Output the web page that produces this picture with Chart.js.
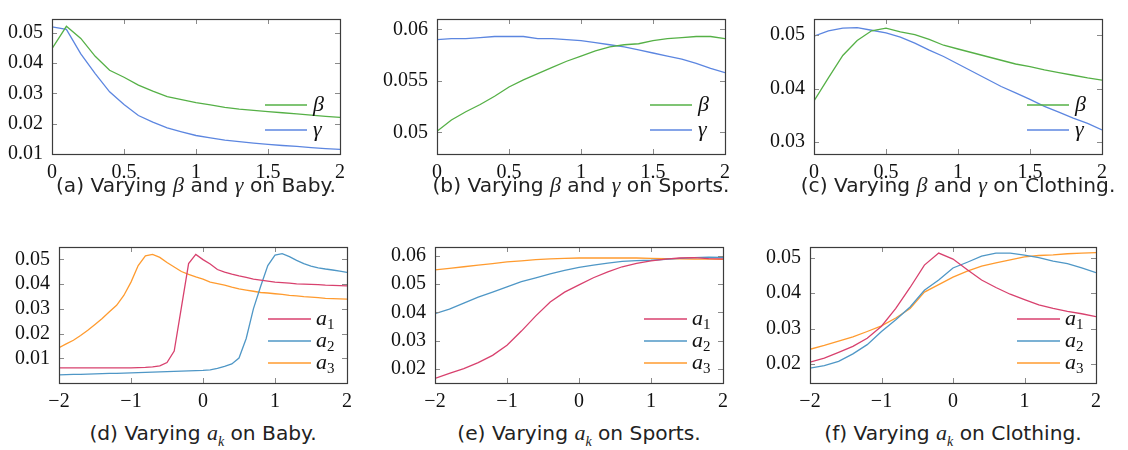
<!DOCTYPE html>
<html>
<head>
<meta charset="utf-8">
<script src="https://cdn.jsdelivr.net/npm/chart.js@4.4.1/dist/chart.umd.min.js"></script>
<style>
  body { margin: 0; background: #fff; }
  #page { position: relative; width: 1128px; height: 450px; overflow: hidden; }
  .box { position: absolute; }
  .cap { position: absolute; font-family: "DejaVu Sans", sans-serif; font-size: 20.2px; color: #222;
         white-space: nowrap; transform: translate(-50%, -50%); }
  .cap i { font-family: "Liberation Serif", serif; font-size: 22px; }
  .cap sub { font-size: 14px; font-style: italic; font-family: "Liberation Serif", serif; }
</style>
</head>
<body>
<div id="page"></div>
<script>
// x positions
const xTop = [0, 0.1, 0.2, 0.3, 0.4, 0.5, 0.6, 0.7, 0.8, 0.9, 1, 1.1, 1.2, 1.3, 1.4, 1.5, 1.6, 1.7, 1.8, 1.9, 2];
const xFine = [-2, -1.9, -1.8, -1.7, -1.6, -1.5, -1.4, -1.3, -1.2, -1.1, -1, -0.9, -0.8, -0.7, -0.6, -0.5, -0.4, -0.3, -0.2, -0.1,
  0, 0.1, 0.2, 0.3, 0.4, 0.5, 0.6, 0.7, 0.8, 0.9, 1, 1.1, 1.2, 1.3, 1.4, 1.5, 1.6, 1.7, 1.8, 1.9, 2];
const xCoarse = [-2, -1.8, -1.6, -1.4, -1.2, -1, -0.8, -0.6, -0.4, -0.2, 0, 0.2, 0.4, 0.6, 0.8, 1, 1.2, 1.4, 1.6, 1.8, 2];

// (a) Baby
const betaBaby = [0.0447, 0.0521, 0.0481, 0.0422, 0.0376, 0.0353, 0.0327, 0.0307, 0.0289, 0.0279, 0.0269, 0.0262, 0.0254, 0.0248, 0.0244, 0.0240, 0.0236, 0.0232, 0.0228, 0.0224, 0.0221];
const gammaBaby = [0.0519, 0.0511, 0.0430, 0.0365, 0.0305, 0.0263, 0.0227, 0.0205, 0.0186, 0.0173, 0.0161, 0.0153, 0.0146, 0.0141, 0.0136, 0.0132, 0.0128, 0.0125, 0.0121, 0.0118, 0.0115];
// (b) Sports
const betaSports = [0.0501, 0.0512, 0.0520, 0.0527, 0.0535, 0.0544, 0.0551, 0.0557, 0.0563, 0.0569, 0.0574, 0.0579, 0.0583, 0.0585, 0.0586, 0.0589, 0.0591, 0.0592, 0.0593, 0.0593, 0.0591];
const gammaSports = [0.0590, 0.0591, 0.0591, 0.0592, 0.0593, 0.0593, 0.0593, 0.0591, 0.0591, 0.0590, 0.0589, 0.0587, 0.0585, 0.0583, 0.0580, 0.0577, 0.0574, 0.0571, 0.0567, 0.0562, 0.0558];
// (c) Clothing
const betaClothing = [0.0377, 0.0420, 0.0462, 0.0490, 0.0508, 0.0513, 0.0506, 0.0501, 0.0492, 0.0481, 0.0474, 0.0467, 0.0460, 0.0453, 0.0446, 0.0441, 0.0435, 0.0430, 0.0425, 0.0420, 0.0416];
const gammaClothing = [0.0498, 0.0508, 0.0513, 0.0514, 0.0509, 0.0504, 0.0496, 0.0485, 0.0472, 0.0460, 0.0446, 0.0432, 0.0418, 0.0404, 0.0392, 0.0380, 0.0367, 0.0356, 0.0345, 0.0335, 0.0323];
// (d) Baby, a_k
const a1Baby = [0.0061, 0.0061, 0.0061, 0.0061, 0.0061, 0.0061, 0.0061, 0.0061, 0.0061, 0.0061, 0.0061, 0.0062, 0.0063, 0.0065, 0.0069, 0.0083, 0.0129, 0.0306, 0.0483, 0.0520,
  0.0499, 0.0481, 0.0459, 0.0448, 0.0440, 0.0433, 0.0427, 0.0420, 0.0416, 0.0412, 0.0408, 0.0406, 0.0404, 0.0401, 0.0400, 0.0399, 0.0398, 0.0396, 0.0395, 0.0394, 0.0393];
const a2Baby = [0.0033, 0.0034, 0.0035, 0.0035, 0.0036, 0.0037, 0.0038, 0.0039, 0.0039, 0.0040, 0.0041, 0.0042, 0.0043, 0.0044, 0.0045, 0.0046, 0.0047, 0.0048, 0.0049, 0.0050,
  0.0051, 0.0053, 0.0059, 0.0067, 0.0077, 0.0101, 0.0180, 0.0300, 0.0390, 0.0475, 0.0517, 0.0523, 0.0511, 0.0496, 0.0483, 0.0473, 0.0466, 0.0461, 0.0457, 0.0452, 0.0447];
const a3Baby = [0.0143, 0.0158, 0.0173, 0.0192, 0.0213, 0.0237, 0.0261, 0.0288, 0.0314, 0.0354, 0.0408, 0.0475, 0.0514, 0.0520, 0.0508, 0.0487, 0.0469, 0.0451, 0.0439, 0.0429,
  0.0420, 0.0408, 0.0402, 0.0396, 0.0388, 0.0381, 0.0376, 0.0371, 0.0366, 0.0364, 0.0361, 0.0358, 0.0354, 0.0352, 0.0349, 0.0347, 0.0345, 0.0342, 0.0341, 0.0340, 0.0339];
// (e) Sports, a_k
const a1Sports = [0.0166, 0.0184, 0.0201, 0.0222, 0.0248, 0.0284, 0.0334, 0.0388, 0.0437, 0.0472, 0.0498, 0.0523, 0.0544, 0.0562, 0.0574, 0.0583, 0.0589, 0.0593, 0.0594, 0.0591, 0.0590];
const a2Sports = [0.0396, 0.0412, 0.0433, 0.0454, 0.0472, 0.0491, 0.0509, 0.0523, 0.0537, 0.0549, 0.0560, 0.0568, 0.0575, 0.0581, 0.0584, 0.0585, 0.0588, 0.0592, 0.0594, 0.0596, 0.0595];
const a3Sports = [0.0551, 0.0556, 0.0562, 0.0568, 0.0573, 0.0579, 0.0583, 0.0587, 0.0590, 0.0592, 0.0593, 0.0593, 0.0593, 0.0593, 0.0593, 0.0592, 0.0591, 0.0590, 0.0589, 0.0589, 0.0588];
// (f) Clothing, a_k
const a1Clothing = [0.0206, 0.0217, 0.0233, 0.0250, 0.0273, 0.0307, 0.0357, 0.0416, 0.0479, 0.0513, 0.0496, 0.0466, 0.0437, 0.0416, 0.0397, 0.0382, 0.0367, 0.0357, 0.0349, 0.0342, 0.0334];
const a2Clothing = [0.0189, 0.0196, 0.0208, 0.0229, 0.0255, 0.0292, 0.0325, 0.0361, 0.0408, 0.0437, 0.0471, 0.0487, 0.0504, 0.0513, 0.0513, 0.0507, 0.0500, 0.0490, 0.0483, 0.0471, 0.0458];
const a3Clothing = [0.0242, 0.0253, 0.0265, 0.0277, 0.0292, 0.0308, 0.0330, 0.0357, 0.0403, 0.0424, 0.0445, 0.0462, 0.0476, 0.0485, 0.0494, 0.0502, 0.0506, 0.0508, 0.0511, 0.0513, 0.0514];

// tick labels
const xTicksTop = [0, 0.5, 1, 1.5, 2];
const xTicksBottom = [-2, -1, 0, 1, 2];
const yTicksA = [0.01, 0.02, 0.03, 0.04, 0.05];
const yTicksB = [0.05, 0.055, 0.06];
const yTicksC = [0.03, 0.04, 0.05];
const yTicksD = [0.01, 0.02, 0.03, 0.04, 0.05];
const yTicksE = [0.02, 0.03, 0.04, 0.05, 0.06];
const yTicksF = [0.02, 0.03, 0.04, 0.05];

const GREEN = '#55b046', BLUE = '#5c86e0', RED = '#d8416e', STEEL = '#4f97c6', ORANGE = '#ff9b2f';
const serif = "'Liberation Serif', 'DejaVu Serif', serif";
Chart.defaults.font.family = serif;
Chart.defaults.font.size = 20;

function pts(xs, ys) {
    return xs.map((x, i) => ({ x: x, y: ys[i] }));
}

// frame with inward ticks on all four sides, like pgfplots
const framePlugin = {
    id: 'frame',
    afterDatasetsDraw(chart) {
        const ctx = chart.ctx, a = chart.chartArea;
        const xs = chart.scales.x, ys = chart.scales.y;
        ctx.save();
        ctx.strokeStyle = '#8a8a8a';
        ctx.lineWidth = 1;
        ctx.beginPath();
        for (const t of xs.ticks) {
            const px = Math.round(xs.getPixelForValue(t.value)) + 0.5;
            ctx.moveTo(px, a.bottom); ctx.lineTo(px, a.bottom - 5);
            ctx.moveTo(px, a.top); ctx.lineTo(px, a.top + 5);
        }
        for (const t of ys.ticks) {
            const py = Math.round(ys.getPixelForValue(t.value)) + 0.5;
            ctx.moveTo(a.left, py); ctx.lineTo(a.left + 5, py);
            ctx.moveTo(a.right, py); ctx.lineTo(a.right - 5, py);
        }
        ctx.stroke();
        ctx.strokeStyle = '#3c3c3c';
        ctx.lineWidth = 1.2;
        ctx.strokeRect(Math.round(a.left) + 0.5, Math.round(a.top) + 0.5,
            Math.round(a.right - a.left), Math.round(a.bottom - a.top));
        ctx.restore();
    }
};

// legend drawn inside the plot, bottom right
const legendPlugin = {
    id: 'innerLegend',
    afterDatasetsDraw(chart, args, opts) {
        const ctx = chart.ctx, a = chart.chartArea;
        const sets = chart.data.datasets;
        ctx.save();
        sets.forEach((ds, i) => {
            const y = a.bottom - opts.bottom - (sets.length - 1 - i) * opts.gap;
            ctx.strokeStyle = ds.borderColor;
            ctx.lineWidth = 1.3;
            ctx.beginPath();
            ctx.moveTo(a.right - opts.lineStart, y);
            ctx.lineTo(a.right - opts.lineEnd, y);
            ctx.stroke();
            ctx.fillStyle = '#111';
            ctx.textBaseline = 'middle';
            ctx.font = 'italic 22px ' + serif;
            const main = ds.label.charAt(0);
            const sub = ds.label.slice(1);
            const tx = a.right - opts.text;
            ctx.fillText(main, tx, y);
            if (sub) {
                const w = ctx.measureText(main).width;
                ctx.font = '15px ' + serif;
                ctx.fillText(sub, tx + w, y + 6);
            }
        });
        ctx.restore();
    }
};

function makePanel(opt) {
    const page = document.getElementById('page');
    const padL = 62, padR = 16, padT = 5, padB = 32;
    const w = opt.right - opt.left, h = opt.bottom - opt.top;
    const box = document.createElement('div');
    box.className = 'box';
    box.style.left = (opt.left - padL) + 'px';
    box.style.top = (opt.top - padT) + 'px';
    box.style.width = (w + padL + padR) + 'px';
    box.style.height = (h + padT + padB) + 'px';
    const canvas = document.createElement('canvas');
    box.appendChild(canvas);
    page.appendChild(box);

    const cap = document.createElement('div');
    cap.className = 'cap';
    cap.innerHTML = opt.caption;
    cap.style.left = ((opt.left + opt.right) / 2) + 'px';
    cap.style.top = opt.capY + 'px';
    page.appendChild(cap);

    new Chart(canvas, {
        type: 'line',
        data: {
            datasets: opt.series.map(s => ({
                label: s.label,
                data: pts(s.x, s.y),
                borderColor: s.color,
                borderWidth: 1.3,
                pointRadius: 0,
                tension: 0,
                fill: false
            }))
        },
        options: {
            responsive: true,
            maintainAspectRatio: false,
            animation: false,
            events: [],
            layout: { padding: { top: padT, right: padR, left: 0, bottom: 0 } },
            plugins: {
                legend: { display: false },
                tooltip: { enabled: false },
                innerLegend: opt.legend
            },
            scales: {
                x: {
                    type: 'linear',
                    min: opt.xMin, max: opt.xMax,
                    grid: { display: false, drawTicks: false, tickLength: 0 },
                    border: { display: false },
                    afterFit: s => { s.height = padB; },
                    afterBuildTicks: s => { s.ticks = opt.xTicks.map(v => ({ value: v })); },
                    ticks: {
                        padding: 7,
                        color: '#111',
                        font: { family: serif, size: 20 },
                        maxRotation: 0,
                        callback: v => String(v).replace('-', '\u2212')
                    }
                },
                y: {
                    min: opt.yMin, max: opt.yMax,
                    grid: { display: false, drawTicks: false, tickLength: 0 },
                    border: { display: false },
                    afterFit: s => { s.width = padL; },
                    afterBuildTicks: s => { s.ticks = opt.yTicks.map(v => ({ value: v })); },
                    ticks: {
                        padding: 9,
                        color: '#111',
                        font: { family: serif, size: 20 },
                        callback: v => String(v)
                    }
                }
            }
        },
        plugins: [framePlugin, legendPlugin]
    });
}

const topLegend = { bottom: 24, gap: 25, lineStart: 75, lineEnd: 33, text: 27 };
const botLegend = { bottom: 20, gap: 22, lineStart: 79, lineEnd: 36, text: 31 };

makePanel({
    left: 52, right: 340, top: 3, bottom: 154, capY: 185,
    caption: '(a) Varying <i>β</i> and <i>γ</i> on Baby.',
    xMin: 0, xMax: 2, yMin: 0.01, yMax: 0.0545, xTicks: xTicksTop, yTicks: yTicksA, legend: topLegend,
    series: [{ label: 'β', x: xTop, y: betaBaby, color: GREEN }, { label: 'γ', x: xTop, y: gammaBaby, color: BLUE }]
});
makePanel({
    left: 437, right: 725, top: 3, bottom: 154, capY: 185,
    caption: '(b) Varying <i>β</i> and <i>γ</i> on Sports.',
    xMin: 0, xMax: 2, yMin: 0.0479, yMax: 0.061, xTicks: xTicksTop, yTicks: yTicksB, legend: topLegend,
    series: [{ label: 'β', x: xTop, y: betaSports, color: GREEN }, { label: 'γ', x: xTop, y: gammaSports, color: BLUE }]
});
makePanel({
    left: 814, right: 1102, top: 3, bottom: 154, capY: 185,
    caption: '(c) Varying <i>β</i> and <i>γ</i> on Clothing.',
    xMin: 0, xMax: 2, yMin: 0.0278, yMax: 0.053, xTicks: xTicksTop, yTicks: yTicksC, legend: topLegend,
    series: [{ label: 'β', x: xTop, y: betaClothing, color: GREEN }, { label: 'γ', x: xTop, y: gammaClothing, color: BLUE }]
});
makePanel({
    left: 59, right: 347, top: 231, bottom: 383, capY: 435,
    caption: '(d) Varying <i>a<sub>k</sub></i> on Baby.',
    xMin: -2, xMax: 2, yMin: 0, yMax: 0.055, xTicks: xTicksBottom, yTicks: yTicksD, legend: botLegend,
    series: [{ label: 'a1', x: xFine, y: a1Baby, color: RED }, { label: 'a2', x: xFine, y: a2Baby, color: STEEL },
             { label: 'a3', x: xFine, y: a3Baby, color: ORANGE }]
});
makePanel({
    left: 435, right: 723, top: 231, bottom: 383, capY: 435,
    caption: '(e) Varying <i>a<sub>k</sub></i> on Sports.',
    xMin: -2, xMax: 2, yMin: 0.015, yMax: 0.0632, xTicks: xTicksBottom, yTicks: yTicksE, legend: botLegend,
    series: [{ label: 'a1', x: xCoarse, y: a1Sports, color: RED }, { label: 'a2', x: xCoarse, y: a2Sports, color: STEEL },
             { label: 'a3', x: xCoarse, y: a3Sports, color: ORANGE }]
});
makePanel({
    left: 810, right: 1096, top: 231, bottom: 383, capY: 435,
    caption: '(f) Varying <i>a<sub>k</sub></i> on Clothing.',
    xMin: -2, xMax: 2, yMin: 0.0147, yMax: 0.053, xTicks: xTicksBottom, yTicks: yTicksF, legend: botLegend,
    series: [{ label: 'a1', x: xCoarse, y: a1Clothing, color: RED }, { label: 'a2', x: xCoarse, y: a2Clothing, color: STEEL },
             { label: 'a3', x: xCoarse, y: a3Clothing, color: ORANGE }]
});
</script>
</body>
</html>
